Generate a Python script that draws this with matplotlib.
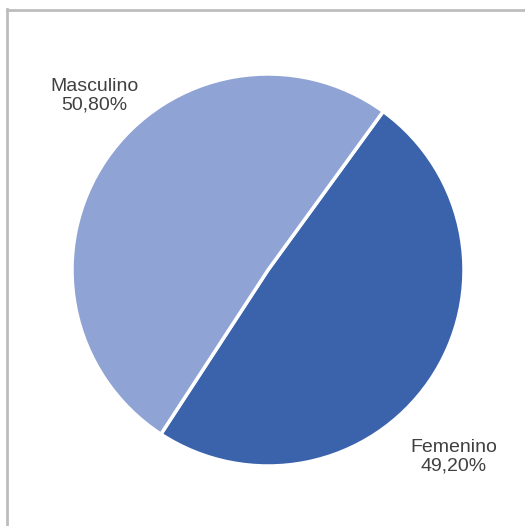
import matplotlib
matplotlib.use("Agg")
import matplotlib.pyplot as plt
from matplotlib.lines import Line2D

labels = ["Femenino", "Masculino"]
values = [49.20, 50.80]
pct_labels = ["49,20%", "50,80%"]
colors = ["#3A63AC", "#8FA3D4"]

W, H = 525, 526
fig = plt.figure(figsize=(W / 100, H / 100), dpi=100)
fig.patch.set_facecolor("white")

# frame
fig.add_artist(Line2D([7 / W, 7 / W], [0, 1 - 9 / H], transform=fig.transFigure, color="#bdbdbd", lw=2))
fig.add_artist(Line2D([7 / W, 1], [1 - 10 / H, 1 - 10 / H], transform=fig.transFigure, color="#bdbdbd", lw=2))

cx, cy, r = 268, 270, 196
ax = fig.add_axes([(cx - r) / W, 1 - (cy + r) / H, 2 * r / W, 2 * r / H])
ax.pie(values, colors=colors, startangle=54, counterclock=False, radius=1,
       wedgeprops=dict(edgecolor="white", linewidth=2.5))
ax.set_xlim(-1, 1)
ax.set_ylim(-1, 1)
ax.set_aspect("equal")
ax.axis("off")

pos = {"Femenino": (0.949, -0.955), "Masculino": (-0.885, 0.89)}
for lab, p in zip(labels, pct_labels):
    x, y = pos[lab]
    ax.text(x, y, f"{lab}\n{p}", ha="center", va="center", fontsize=14,
            family="Liberation Sans", color="#404040", clip_on=False, linespacing=1.12)

fig.savefig("out.png", dpi=100)
